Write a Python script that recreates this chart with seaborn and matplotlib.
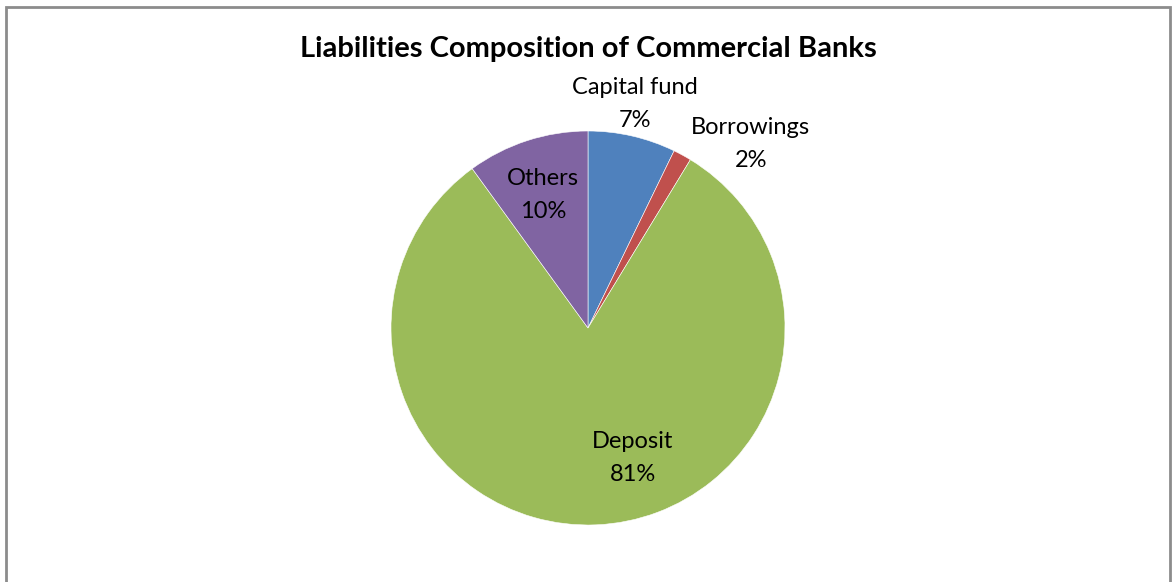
import matplotlib
matplotlib.use("Agg")
import matplotlib.pyplot as plt
import seaborn as sns

# Liabilities shares (percent)
categories = ["Capital fund", "Borrowings", "Deposit", "Others"]
shares = [7.2, 1.5, 81.3, 10.0]
colors = ["#4F81BD", "#C0504D", "#9BBB59", "#8064A2"]

sns.set_theme(style="white")
plt.rcParams["font.family"] = ["Lato", "DejaVu Sans"]

W, H = 1175, 582
fig = plt.figure(figsize=(W / 100, H / 100), dpi=100)

# chart frame
frame = plt.Rectangle((6 / W, -0.1), (1170 - 6) / W, (H - 7) / H + 0.1,
                      transform=fig.transFigure, fill=False,
                      edgecolor="#8c8c8c", linewidth=2.0)
fig.patches.append(frame)

cx, cy, r = 588, 328, 197
ax = fig.add_axes([(cx - r) / W, (H - cy - r) / H, 2 * r / W, 2 * r / H])
wedges, _ = ax.pie(shares, colors=colors, startangle=90, counterclock=False,
                   radius=1.0, wedgeprops=dict(edgecolor="white", linewidth=0.4))
ax.set_xlim(-1, 1)
ax.set_ylim(-1, 1)
ax.set_aspect("equal")
ax.axis("off")

# label anchor points in pie coordinates
label_pos = {
    "Capital fund": (0.239, 1.137),
    "Borrowings": (0.827, 0.934),
    "Deposit": (0.228, -0.660),
    "Others": (-0.228, 0.675),
}
for name, val in zip(categories, shares):
    x, y = label_pos[name]
    ax.text(x, y, f"{name}\n{round(val):.0f}%", ha="center", va="center",
            fontsize=17, color="black", linespacing=1.7, clip_on=False)

fig.text(588 / W, 1 - 49 / H, "Liabilities Composition of Commercial Banks",
         ha="center", va="center", fontsize=21, fontweight="bold", color="black")

fig.savefig("out.png", dpi=100, facecolor="white")
